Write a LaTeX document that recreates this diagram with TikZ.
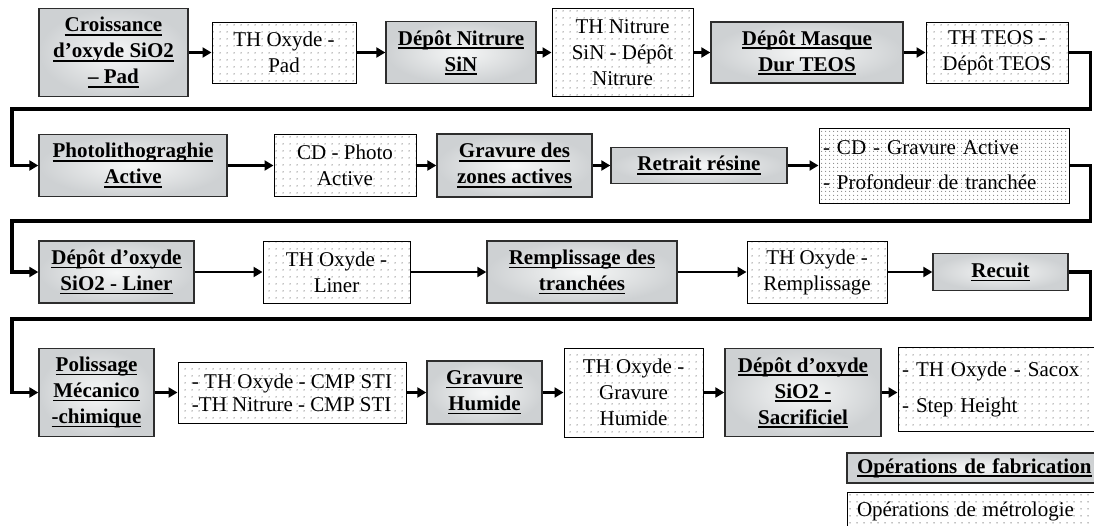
\documentclass[tikz,border=0pt]{standalone}
\usepackage{fontspec}
\setmainfont{Liberation Serif}
\usetikzlibrary{arrows.meta,patterns}
\pgfdeclarepatternformonly{sdots}{\pgfpointorigin}{\pgfpoint{7pt}{7pt}}{\pgfpoint{7pt}{7pt}}{\pgfpathcircle{\pgfpoint{3.5pt}{3.5pt}}{0.8pt}\pgfusepath{fill}}
\pgfdeclarepatternformonly{ddots}{\pgfpointorigin}{\pgfpoint{4pt}{4pt}}{\pgfpoint{4pt}{4pt}}{\pgfpathcircle{\pgfpoint{2pt}{2pt}}{0.7pt}\pgfusepath{fill}}
\newcommand{\ulb}[1]{\setbox0\hbox{#1}\rlap{\rule[-3.8pt]{\wd0}{1.5pt}}\box0}
\definecolor{marbin}{RGB}{246,247,247}
\definecolor{marbout}{RGB}{206,209,211}
\definecolor{dotc}{RGB}{135,135,135}
\definecolor{darkb}{RGB}{45,45,45}
\begin{document}
\begin{tikzpicture}[x=1pt,y=-1pt,
 every node/.style={font=\fontsize{21}{26}\selectfont, inner sep=2pt},
 fab/.style={draw=darkb, line width=1.4pt, inner color=marbin, outer color=marbout, font=\fontsize{21}{26}\selectfont\bfseries, align=center},
 met/.style={draw=black, line width=1pt, preaction={fill=white}, pattern=sdots, pattern color=dotc, align=center},
 arr/.style={line width=2.6pt, -{Triangle[length=9pt,width=10pt]}},
 ret/.style={line width=3.2pt, -{Triangle[length=9pt,width=10pt]}},
]
\useasboundingbox (0,0) rectangle (1094,525);
\clip (0,0) rectangle (1094,525);
% Row 1
\node[fab, minimum width=149pt, minimum height=88pt] (A) at (113.5,52.5) {\ulb{Croissance}\\ \ulb{d’oxyde SiO2}\\ \ulb{– Pad}};
\node[met, minimum width=144pt, minimum height=61pt] (B) at (284,52.5) {TH Oxyde -\\ Pad};
\node[fab, minimum width=150pt, minimum height=62pt] (C) at (461,52.5) {\ulb{Dépôt Nitrure}\\ \ulb{SiN}};
\node[met, minimum width=141pt, minimum height=88pt] (D) at (622.5,52.5) {TH Nitrure\\ SiN - Dépôt\\ Nitrure};
\node[fab, minimum width=192pt, minimum height=61pt] (E) at (807,52.5) {\ulb{Dépôt Masque}\\ \ulb{Dur TEOS}};
\node[met, minimum width=142pt, minimum height=61pt] (F) at (997,52.5) {TH TEOS -\\ Dépôt TEOS};
% Row 2
\node[fab, minimum width=188pt, minimum height=62pt] (G) at (133,165.5) {\ulb{Photolithograghie}\\ \ulb{Active}};
\node[met, minimum width=142pt, minimum height=62pt] (H) at (345,165.5) {CD - Photo\\ Active};
\node[fab, minimum width=155pt, minimum height=63pt] (I) at (514.5,165.5) {\ulb{Gravure des}\\ \ulb{zones actives}};
\node[fab, minimum width=176pt, minimum height=36pt] (J) at (699,165.5) {\ulb{Retrait résine}};
\node[met, pattern=ddots, minimum width=250pt, minimum height=75pt, text width=242pt, align=left] (K) at (944,165.5) {- CD - Gravure Active\\[9pt]- Profondeur de tranchée};
% Row 3
\node[fab, minimum width=155pt, minimum height=62pt] (L) at (116.5,272) {\ulb{Dépôt d’oxyde}\\ \ulb{SiO2 - Liner}};
\node[met, minimum width=147pt, minimum height=62pt] (M) at (336.5,272) {TH Oxyde -\\ Liner};
\node[fab, minimum width=190pt, minimum height=62pt] (N) at (582,272) {\ulb{Remplissage des}\\ \ulb{tranchées}};
\node[met, minimum width=140pt, minimum height=62pt] (O) at (817,272) {TH Oxyde -\\ Remplissage};
\node[fab, minimum width=135pt, minimum height=37pt] (P) at (1000.5,272) {\ulb{Recuit}};
% Row 4
\node[fab, minimum width=115pt, minimum height=88pt] (Q) at (96.5,392.5) {\ulb{Polissage}\\ \ulb{Mécanico}\\ \ulb{-chimique}};
\node[met, minimum width=228pt, minimum height=61pt, align=left] (R) at (292,392.5) {- TH Oxyde - CMP STI\\[-3pt]-TH Nitrure - CMP STI};
\node[fab, minimum width=115pt, minimum height=63pt] (S) at (484.5,392.5) {\ulb{Gravure}\\ \ulb{Humide}};
\node[met, minimum width=139pt, minimum height=89pt] (T) at (633.5,392.5) {TH Oxyde -\\ Gravure\\ Humide};
\node[fab, minimum width=156pt, minimum height=88pt] (U) at (803,392.5) {\ulb{Dépôt d’oxyde}\\ \ulb{SiO2 -}\\ \ulb{Sacrificiel}};
\node[met, minimum width=202pt, minimum height=84pt, text width=194pt, align=left] (V) at (999,389) {- TH Oxyde - Sacox\\[10pt]- Step Height};
% Legend
\node[fab, minimum width=253pt, minimum height=30pt, text width=233pt, align=left] (W) at (973.5,468) {\ulb{Opérations de fabrication}};
\node[met, minimum width=253pt, minimum height=38pt, text width=233pt, align=left] (X) at (973.5,511) {Opérations de métrologie};
% Connectors row 1
\draw[arr] (A.east) -- (B.west);
\draw[arr] (B.east) -- (C.west);
\draw[arr] (C.east) -- (D.west);
\draw[arr] (D.east) -- (E.west);
\draw[arr] (E.east) -- (F.west);
\coordinate (r1) at (1090.5,109);
\coordinate (l1) at (12,109);
\draw[ret] (F.east) -| (r1) -- (l1) |- (G.west);
% Row 2
\draw[arr] (G.east) -- (H.west);
\draw[arr] (H.east) -- (I.west);
\draw[arr] (I.east) -- (J.west);
\draw[arr] (J.east) -- (K.west);
\coordinate (r2) at (1090.5,221);
\coordinate (l2) at (12,221);
\draw[ret] (K.east) -| (r2) -- (l2) |- (L.west);
% Row 3
\draw[arr] (L.east) -- (M.west);
\draw[arr] (M.east) -- (N.west);
\draw[arr] (N.east) -- (O.west);
\draw[arr] (O.east) -- (P.west);
\coordinate (r3) at (1090.5,319);
\coordinate (l3) at (12,319);
\draw[ret] (P.east) -| (r3) -- (l3) |- (Q.west);
% Row 4
\draw[arr] (Q.east) -- (R.west);
\draw[arr] (R.east) -- (S.west);
\draw[arr] (S.east) -- (T.west);
\draw[arr] (T.east) -- (U.west);
\draw[arr] (U.east) -- (U.east -| V.west);
\end{tikzpicture}
\end{document}
